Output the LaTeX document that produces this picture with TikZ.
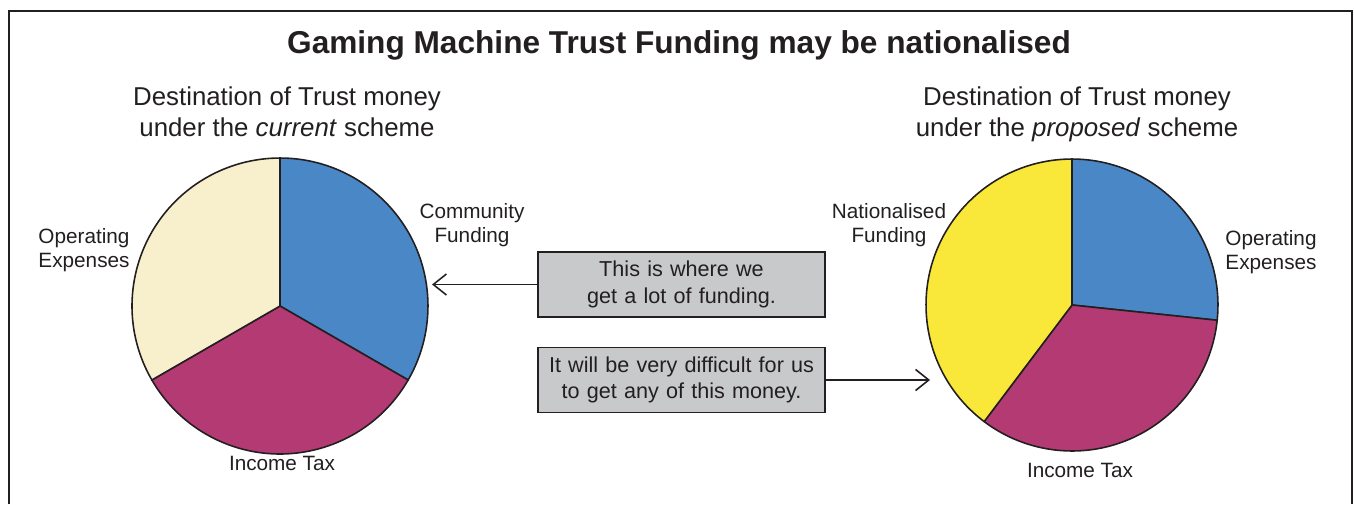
\documentclass[tikz,border=0pt]{standalone}
\usepackage{fontspec}
\setmainfont{Liberation Sans}
\usetikzlibrary{arrows.meta,positioning}

\definecolor{pieblue}{HTML}{4A87C6}
\definecolor{piepink}{HTML}{B33A73}
\definecolor{piecream}{HTML}{F8F0CC}
\definecolor{pieyellow}{HTML}{F9E83A}
\definecolor{notegray}{HTML}{C8C9CB}
\definecolor{inkgray}{HTML}{231F20}

\begin{document}
\begin{tikzpicture}[
    x=0.02cm, y=0.02cm,
    node distance=1.91cm,
    every node/.style={text=inkgray},
    title/.style={font=\fontsize{18}{21}\bfseries},
    heading/.style={align=center, anchor=north, font=\fontsize{14.7}{17.6}\selectfont},
    slicetext/.style={align=center, font=\fontsize{11.8}{13.6}\selectfont},
    slice/.style={draw=inkgray, line width=0.9pt, line join=round},
    note/.style={rectangle, draw=inkgray, line width=1.1pt, fill=notegray, text width=5.5cm, align=center, minimum width=5.7cm, minimum height=1.3cm, font=\fontsize{12.3}{15.2}\selectfont},
    arrow/.style={-{Straight Barb[length=7.5pt, width=12pt]}, line width=0.9pt, draw=inkgray}
]
\useasboundingbox (0,0) rectangle (1354,504);

% Frame
\draw[inkgray, line width=1.2pt] (9,0) |- (1352,493) -- (1352,0);

% Titles
\node[title] (title) at (679,459) {Gaming Machine Trust Funding may be nationalised};
\node[heading] (hcur) at (287,423.4) {Destination of Trust money\\under the \textit{current} scheme};
\node[heading] (hprop) at (1077,423.4) {Destination of Trust money\\under the \textit{proposed} scheme};

% Current scheme pie
\coordinate (lc) at (280,198);
\draw[slice, fill=pieblue] (lc) -- ++(90:2.96cm) arc[start angle=90, end angle=-30, radius=2.96cm] -- cycle;
\draw[slice, fill=piepink] (lc) -- ++(-30:2.96cm) arc[start angle=-30, end angle=-150, radius=2.96cm] -- cycle;
\draw[slice, fill=piecream] (lc) -- ++(-150:2.96cm) arc[start angle=-150, end angle=-270, radius=2.96cm] -- cycle;

% Proposed scheme pie
\coordinate (rc) at (1072,199);
\draw[slice, fill=pieblue] (rc) -- ++(90:2.92cm) arc[start angle=90, end angle=-6, radius=2.92cm] -- cycle;
\draw[slice, fill=piepink] (rc) -- ++(-6:2.92cm) arc[start angle=-6, end angle=-127, radius=2.92cm] -- cycle;
\draw[slice, fill=pieyellow] (rc) -- ++(-127:2.92cm) arc[start angle=-127, end angle=-270, radius=2.92cm] -- cycle;

% Slice labels
\node[slicetext] (comm) at (472,279) {Community\\Funding};
\node[slicetext] (opl) at (84,254) {Operating\\Expenses};
\node[slicetext] (taxl) at (282,41) {Income Tax};
\node[slicetext] (natf) at (889,279) {Nationalised\\Funding};
\node[slicetext] (opr) at (1271,252) {Operating\\Expenses};
\node[slicetext] (taxr) at (1080,34) {Income Tax};

% Notes
\node[note] (note1) at (681.5,219.5) {This is where we\\get a lot of funding.};
\node[note, below of=note1] (note2) {It will be very difficult for us\\to get any of this money.};

% Arrows
\coordinate (ltip) at (432,219.5);
\coordinate (rtip) at (930,124);
\draw[arrow] (note1) -- (ltip);
\draw[arrow] (note2) -- (rtip);

\end{tikzpicture}
\end{document}
